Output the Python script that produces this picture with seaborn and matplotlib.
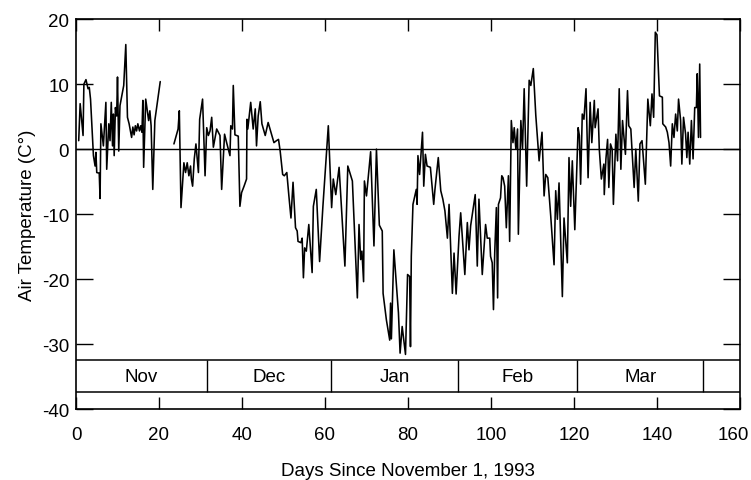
import matplotlib
matplotlib.use("Agg")
import matplotlib.pyplot as plt
import matplotlib.transforms as mtransforms
import seaborn as sns
import pandas as pd

# air temperature trace (day, deg C)
# first stretch (before the data gap in late November)
days_a = [0.65, 1.0, 1.7, 1.9, 2.4, 2.9, 3.2, 3.5, 4.2, 4.6, 4.8, 5.0, 5.6, 5.8, 6.0, 6.6,
          7.2, 7.4, 7.9, 8.2, 8.5, 8.8, 9.0, 9.2, 9.5, 9.8, 10.0, 10.3, 10.6, 11.5, 12.0,
          12.4, 12.8, 13.4, 13.7, 14.0, 14.3, 14.6, 14.9, 15.3, 15.6, 15.9, 16.1, 16.3,
          16.8, 17.5, 17.8, 18.1, 18.5, 19.0, 20.3]
temps_a = [1.3, 7.0, 2.1, 10.0, 10.7, 9.3, 9.5, 7.7, -1.0, -2.6, -0.5, -3.6, -3.7, -7.6, 3.9, 0.5,
           7.2, -3.1, 3.9, 1.3, 7.2, 0.5, 5.4, -1.0, 6.4, 5.1, 11.1, -0.3, 6.7, 9.8, 16.1,
           4.9, 3.9, 1.8, 3.4, 2.2, 3.6, 2.8, 3.9, 2.8, 3.6, 2.6, 7.5, -2.8,
           7.7, 4.4, 5.9, 3.6, -6.2, 4.4, 10.4]

# second stretch
days_b = [23.6, 24.6, 24.9, 25.3, 26.0, 26.4, 26.8, 27.2, 27.6, 27.8, 28.1, 28.5, 28.9, 29.5,
          29.8, 30.5, 31.1, 31.5, 31.9, 32.3, 32.7, 33.1, 33.9, 34.7, 35.1, 35.8, 36.3, 37.1,
          37.3, 37.7, 37.9, 38.3, 39.1, 39.5, 39.9, 40.5, 41.1, 41.2, 41.4, 42.1, 42.7, 43.2,
          43.5, 43.9, 44.4, 44.8, 45.6, 46.3, 47.1, 47.7, 48.3, 48.8, 49.2, 49.8, 50.2, 50.8,
          51.3, 51.8, 52.3, 52.9, 53.3, 53.5, 54.2, 54.5, 54.8, 55.1, 55.5, 56.1, 56.9, 57.2,
          57.9, 58.7, 59.5, 60.8, 61.6, 62.0, 62.6, 63.4, 64.8, 65.5, 66.6, 67.8, 68.2, 68.6,
          68.9, 69.3, 69.5, 70.0, 71.0, 71.8, 72.4, 73.1, 73.8, 74.0, 74.8, 75.6, 75.8, 76.0,
          76.6, 77.7, 78.1, 78.6, 79.4, 79.9, 80.4, 80.6, 80.8, 81.2, 82.0, 82.2, 82.4, 82.8,
          83.5, 83.8, 84.2, 84.6, 85.4, 86.2, 86.5, 87.3, 87.9, 88.4, 88.9, 89.5, 89.9, 90.7,
          91.1, 91.6, 92.1, 92.3, 92.7, 93.7, 94.3, 94.7, 95.1, 96.2, 96.7, 97.1, 97.9, 98.7,
          99.1, 99.7, 99.9, 100.3, 100.6, 100.9, 101.3, 101.6, 101.8, 102.3, 102.6, 102.9,
          103.3, 103.7, 104.2, 104.5, 104.9, 105.3, 105.6, 106.0, 106.4, 106.6, 107.2, 107.6,
          108.0, 108.6, 109.2, 109.6, 110.2, 110.8, 111.6, 112.3, 112.8, 113.2, 113.7, 114.4,
          115.2, 115.6, 116.0, 116.4, 117.2, 117.6, 118.4, 118.8, 119.2, 119.6, 120.2, 121.0,
          121.3, 121.6, 122.0, 122.4, 122.9, 123.4, 123.9, 124.3, 124.9, 125.1, 125.8, 126.1,
          126.6, 127.2, 127.3, 127.7, 128.1, 128.4, 128.8, 129.2, 129.5, 130.1, 130.5, 130.9,
          131.3, 131.7, 132.4, 132.9, 133.2, 133.7, 134.5, 134.9, 135.5, 135.9, 136.4, 137.2,
          137.8, 138.4, 138.8, 139.2, 139.6, 140.0, 140.6, 141.3, 141.4, 142.1, 142.5, 142.9,
          143.3, 143.7, 144.1, 144.5, 144.9, 145.2, 145.7, 146.0, 146.4, 146.9, 147.2, 147.5,
          147.9, 148.3, 148.7, 149.1, 149.5, 149.7, 150.0, 150.3, 150.5]
temps_b = [0.8, 3.1, 5.9, -9.0, -2.1, -3.6, -2.1, -4.1, -2.6, -4.6, -5.7, -1.5, 0.8, -3.6,
           4.6, 7.7, -4.1, 3.3, 2.1, 2.8, 4.9, 0.3, 3.1, 2.1, -6.2, 2.3, 1.0, -1.0,
           3.6, 3.1, 9.8, 2.2, 2.0, -8.8, -6.7, -5.7, -4.6, 4.6, 3.1, 7.2, 3.1, 6.2,
           0.5, 5.1, 7.3, 3.9, 2.1, 4.1, 2.3, 1.0, 1.3, 1.5, -0.3, -3.9, -4.1, -3.6,
           -7.2, -10.6, -5.1, -12.1, -12.6, -14.2, -14.4, -13.7, -19.8, -15.2, -15.7, -11.6, -19.0, -8.8,
           -6.2, -17.3, -8.8, 3.6, -9.0, -4.6, -7.0, -2.8, -18.0, -2.6, -4.9, -22.9, -11.6, -17.0,
           -15.7, -20.4, -4.9, -7.2, -0.4, -14.9, 0.0, -11.7, -12.6, -22.2, -26.3, -29.4, -23.7, -29.2,
           -15.5, -25.2, -31.4, -27.3, -31.6, -19.3, -19.6, -30.4, -16.5, -8.5, -6.2, -8.5, -1.0, -3.9,
           2.6, -5.7, -0.8, -2.6, -2.8, -8.5, -6.2, -1.3, -6.4, -7.7, -9.5, -13.7, -8.5, -22.2,
           -16.0, -22.3, -16.0, -13.4, -9.8, -19.3, -11.3, -15.5, -11.8, -7.0, -18.0, -7.7, -19.3, -11.6,
           -13.7, -13.7, -16.5, -17.5, -24.7, -16.0, -9.0, -22.9, -8.5, -7.5, -4.1, -4.4,
           -5.7, -12.1, -4.1, -14.2, 4.4, 1.0, 3.3, 0.0, 3.1, -13.1, 4.4, 0.0,
           9.3, -5.7, 10.6, 9.8, 12.4, 5.2, -1.8, 2.6, -7.2, -3.9, -4.4, -10.3,
           -17.8, -6.4, -10.8, -5.2, -22.7, -10.6, -17.5, -1.3, -8.8, -1.8, -12.4, 3.3,
           2.1, -5.4, 5.4, 4.6, 9.3, -4.4, 7.2, 1.0, 7.5, 3.3, 6.2, 0.0,
           -4.6, -2.3, -7.0, -1.5, 1.5, -5.9, 0.8, 0.0, -8.5, 2.3, -1.8, 9.3,
           -3.1, 4.4, -0.8, 9.0, 3.6, 3.1, -5.9, 0.0, -8.0, 0.8, 1.3, -5.4,
           7.7, 3.6, 8.5, 4.9, 18.0, 17.6, 8.2, 8.0, 3.9, 3.4, 2.6, 1.0,
           -2.6, 3.9, 1.8, 5.4, 2.8, 7.7, 4.4, -2.3, 4.9, 2.3, -1.3, 2.6,
           -2.3, 4.4, -1.5, 6.4, 6.4, 11.6, 1.8, 13.1, 1.8]

# month strip
months = ["Nov", "Dec", "Jan", "Feb", "Mar"]
month_starts = [0, 31.6, 61.5, 92.1, 120.8, 151.2]

df = pd.concat([
    pd.DataFrame({"day": days_a, "temp": temps_a, "seg": 0}),
    pd.DataFrame({"day": days_b, "temp": temps_b, "seg": 1}),
])

sns.set_style("ticks")
plt.rcParams["font.family"] = ["Liberation Sans", "DejaVu Sans"]
plt.rcParams["axes.unicode_minus"] = False
for k in ["text.color", "axes.labelcolor", "xtick.color", "ytick.color", "axes.edgecolor"]:
    plt.rcParams[k] = "black"

fs = 13.5
fig = plt.figure(figsize=(7.51, 4.81), dpi=100)
ax = fig.add_axes([0.1012, 0.1476, 0.8841, 0.8104])

sns.lineplot(data=df, x="day", y="temp", units="seg", estimator=None, sort=False,
             color="black", linewidth=1.15, ax=ax)

ax.axhline(0, color="black", linewidth=1.0)

# month band
band_lo, band_hi = -37.4, -32.5
ax.axhline(band_lo, color="black", linewidth=1.1)
ax.axhline(band_hi, color="black", linewidth=1.1)
ax.vlines(month_starts[1:], band_lo, band_hi, color="black", linewidth=1.0)
for i, m in enumerate(months):
    xc = (month_starts[i] + month_starts[i + 1]) / 2
    ax.text(xc, (band_lo + band_hi) / 2, m, ha="center", va="center", fontsize=fs)

ax.set_xlim(0, 160)
ax.set_ylim(-40, 20)
ax.set_xticks(range(0, 161, 20))
ax.set_yticks(range(-40, 21, 10))
ax.tick_params(axis="x", direction="in", length=8.5, width=1.0, top=True, pad=12, labelsize=fs)
ax.tick_params(axis="y", direction="in", length=12, width=1.0, right=True, pad=5, labelsize=fs)
for s in ax.spines.values():
    s.set_linewidth(1.2)

# nudge the last x label so it stays inside the canvas
last = ax.get_xticklabels()[-1]
last.set_transform(last.get_transform() +
                   mtransforms.ScaledTranslation(-5 / 72, 0, fig.dpi_scale_trans))

ax.set_xlabel("Days Since November 1, 1993", fontsize=fs, labelpad=14)
ax.set_ylabel("Air Temperature (C°)", fontsize=fs, labelpad=4)

fig.savefig("out.png", dpi=100)
